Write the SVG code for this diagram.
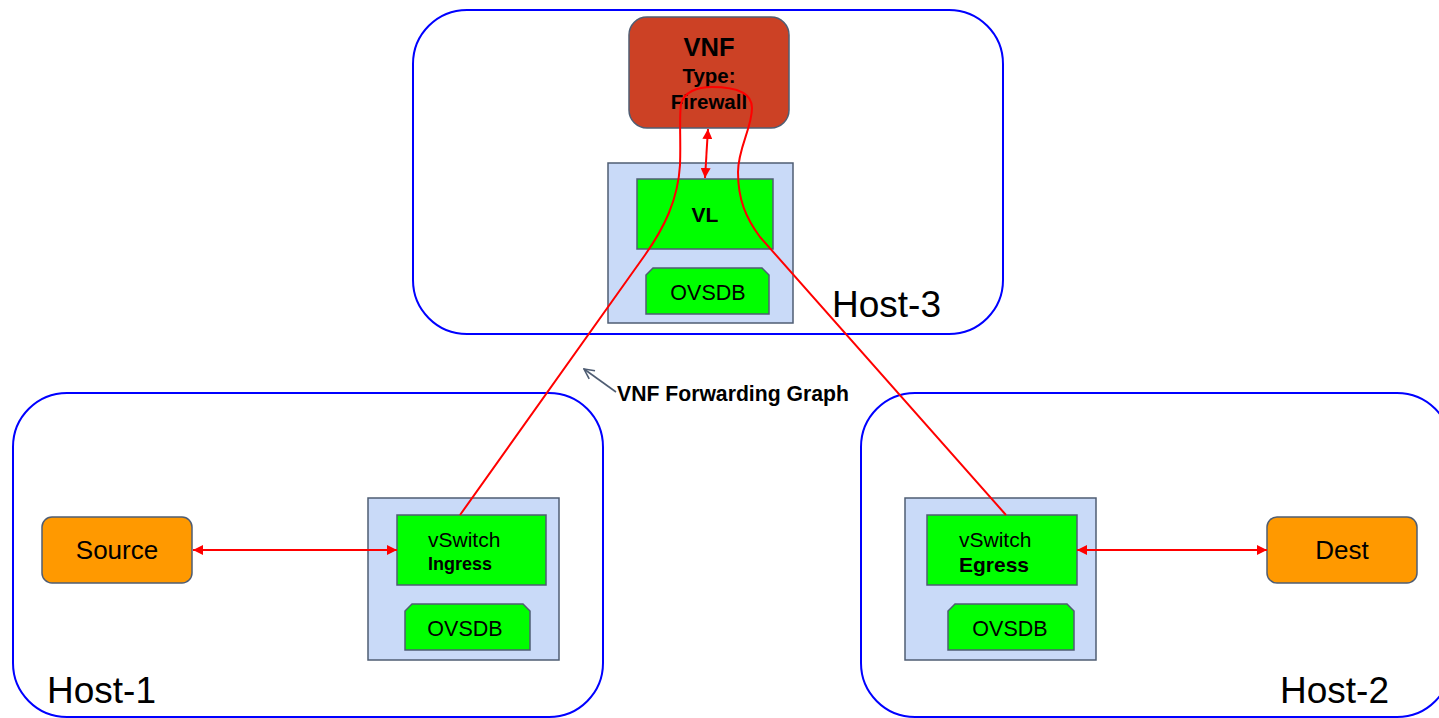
<svg xmlns="http://www.w3.org/2000/svg" width="1439" height="718" viewBox="0 0 1439 718">
<style>
.host{fill:#ffffff;stroke:#0000ff;stroke-width:2}
.hl{font-family:"Liberation Sans",Arial,sans-serif;font-size:37px;fill:#000}
.sw{fill:#c9daf8;stroke:#4f5d73;stroke-width:1.5}
.gr{fill:#00ff00;stroke:#4f5d73;stroke-width:1.5}
.or{fill:#ff9900;stroke:#4f5d73;stroke-width:1.5}
.t{font-family:"Liberation Sans",Arial,sans-serif;fill:#000}
.b{font-weight:bold}
.red{fill:none;stroke:#ff0000;stroke-width:2}
</style>
<defs>
<marker id="ah" viewBox="0 0 10 10" refX="10" refY="5" markerWidth="10" markerHeight="10" markerUnits="userSpaceOnUse" orient="auto-start-reverse">
<path d="M0,0 L10,5 L0,10 z" fill="#ff0000"/>
</marker>
<marker id="oa" viewBox="0 0 12 12" refX="11" refY="6" markerWidth="12" markerHeight="12" markerUnits="userSpaceOnUse" orient="auto">
<path d="M1,1 L11,6 L1,11" fill="none" stroke="#4f5d73" stroke-width="1.6"/>
</marker>
</defs>

<g id="host-3">
<rect class="host" x="413" y="10" width="590" height="324" rx="54" ry="54"/>
<text class="hl" x="832" y="317">Host-3</text>
</g>
<g id="host-1">
<rect class="host" x="13" y="393" width="590" height="324" rx="54" ry="54"/>
<text class="hl" x="47" y="703">Host-1</text>
</g>
<g id="host-2">
<rect class="host" x="861" y="393" width="590" height="324" rx="54" ry="54"/>
<text class="hl" x="1280" y="703">Host-2</text>
</g>

<g id="switch-3">
<rect class="sw" x="608" y="163" width="185" height="160"/>
</g>
<g id="vl">
<rect class="gr" x="637" y="179" width="136" height="70"/>
<text class="t b" x="705" y="222" font-size="21" text-anchor="middle">VL</text>
</g>
<g id="ovsdb-3">
<path class="gr" d="M653,268 L762,268 L769,275 L769,314 L646,314 L646,275 z"/>
<text class="t" x="708" y="300" font-size="21.5" text-anchor="middle">OVSDB</text>
</g>
<g id="vnf">
<rect x="629" y="17" width="160" height="111" rx="18" ry="18" fill="#cc4125" stroke="#4f5d73" stroke-width="1.5"/>
<text class="t b" x="709" y="56" font-size="25.5" text-anchor="middle">VNF</text>
<text class="t b" x="709" y="83" font-size="20.5" text-anchor="middle">Type:</text>
<text class="t b" x="709" y="109" font-size="20.5" text-anchor="middle">Firewall</text>
</g>

<g id="switch-1">
<rect class="sw" x="368" y="498" width="191" height="162"/>
</g>
<g id="vswitch-ingress">
<rect class="gr" x="397" y="515" width="149" height="70"/>
<text class="t" x="428" y="547" font-size="21">vSwitch</text>
<text class="t b" x="428" y="570" font-size="18">Ingress</text>
</g>
<g id="ovsdb-1">
<path class="gr" d="M412,604 L523,604 L530,611 L530,650 L405,650 L405,611 z"/>
<text class="t" x="465" y="636" font-size="21.5" text-anchor="middle">OVSDB</text>
</g>

<g id="switch-2">
<rect class="sw" x="905" y="498" width="191" height="162"/>
</g>
<g id="vswitch-egress">
<rect class="gr" x="927" y="515" width="150" height="70"/>
<text class="t" x="959" y="547" font-size="21">vSwitch</text>
<text class="t b" x="959" y="572" font-size="21">Egress</text>
</g>
<g id="ovsdb-2">
<path class="gr" d="M955,604 L1067,604 L1074,611 L1074,650 L948,650 L948,611 z"/>
<text class="t" x="1010" y="636" font-size="21.5" text-anchor="middle">OVSDB</text>
</g>

<g id="source">
<rect class="or" x="42" y="517" width="150" height="66" rx="10" ry="10"/>
<text class="t" x="117" y="559" font-size="26" text-anchor="middle">Source</text>
</g>
<g id="dest">
<rect class="or" x="1267" y="517" width="150" height="66" rx="10" ry="10"/>
<text class="t" x="1342" y="559" font-size="26" text-anchor="middle">Dest</text>
</g>

<g id="label">
<text class="t b" x="617" y="401" font-size="21.2">VNF Forwarding Graph</text>
</g>

<g id="connectors">
<line class="red" x1="193" y1="550" x2="397" y2="550" marker-start="url(#ah)" marker-end="url(#ah)"/>
<line class="red" x1="1077" y1="550" x2="1267" y2="550" marker-start="url(#ah)" marker-end="url(#ah)"/>
<line class="red" x1="708" y1="129" x2="705" y2="178" marker-start="url(#ah)" marker-end="url(#ah)"/>
<path class="red" d="M460,515 L645,255 C664,228 678,200 680,165 C681,140 679,118 681,104 C684,92 697,87 712,87 C735,87 752,92 752,108 C752,128 738,148 738,172 C738,200 746,218 760,237 L1006,515"/>
<line x1="616" y1="392" x2="584" y2="369" stroke="#4f5d73" stroke-width="1.6" marker-end="url(#oa)"/>
</g>
</svg>
